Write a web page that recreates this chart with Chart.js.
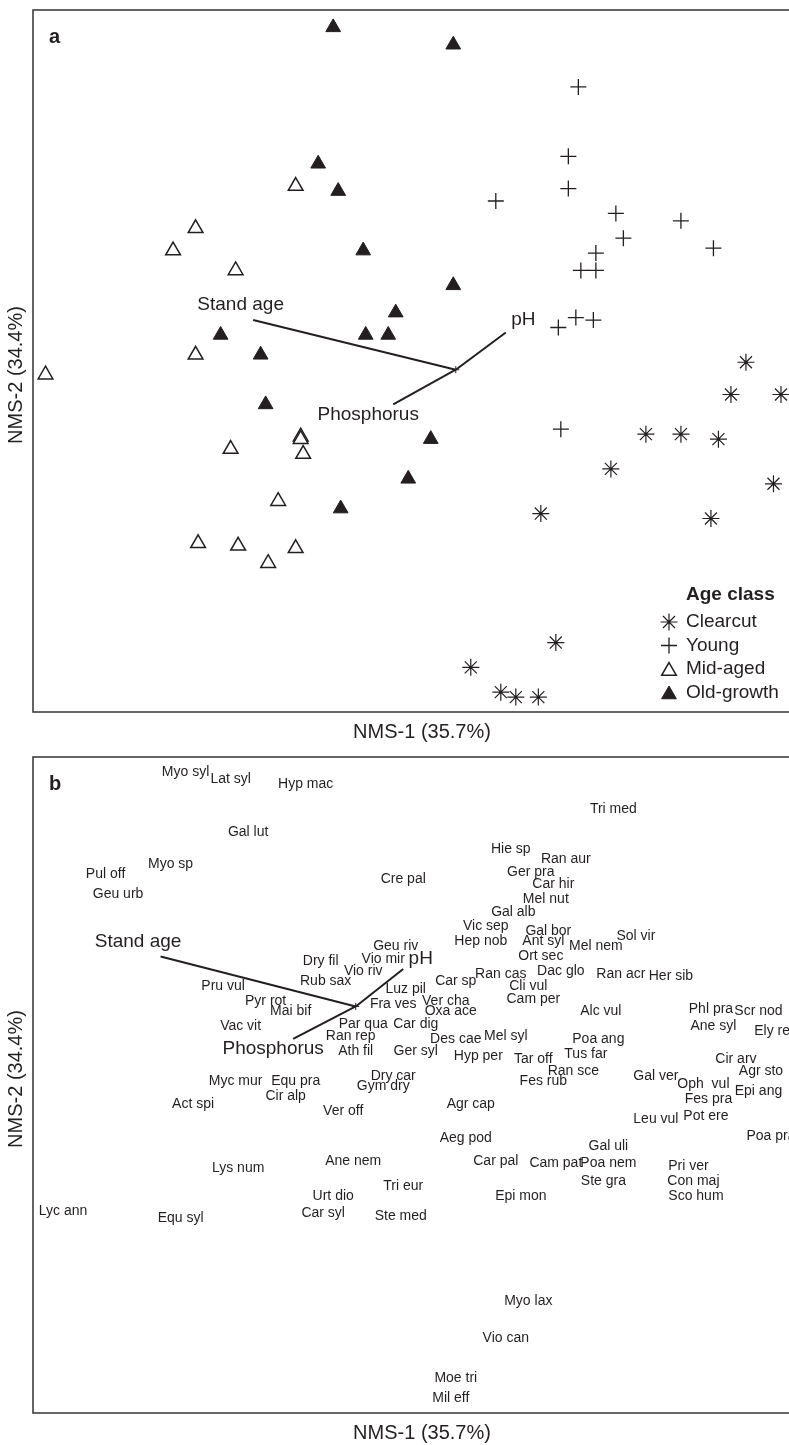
<!DOCTYPE html>
<html>
<head>
<meta charset="utf-8">
<script src="https://cdn.jsdelivr.net/npm/chart.js@4/dist/chart.umd.min.js"></script>
<style>
html,body{margin:0;padding:0;background:#fff;overflow:hidden;width:789px;height:1445px}
canvas{display:block}
</style>
</head>
<body>
<canvas id="chartA" width="830" height="745"></canvas>
<canvas id="chartB" width="830" height="700"></canvas>
<script>

/* ===== DATA ===== */

const axisTitleX = "NMS-1 (35.7%)"
const axisTitleY = "NMS-2 (34.4%)"

const ageClasses = ["Clearcut","Young","Mid-aged","Old-growth"]

const clearcutX = [1.16,1.10,1.30,0.76,0.90,1.05,0.62,1.27,0.34,1.02,0.40,0.06,0.18,0.24,0.33]
const clearcutY = [0.03,-0.10,-0.10,-0.26,-0.26,-0.28,-0.40,-0.46,-0.58,-0.60,-1.10,-1.20,-1.30,-1.32,-1.32]

const youngX = [0.49,0.45,0.45,0.16,0.64,0.90,0.67,1.03,0.56,0.50,0.56,0.41,0.48,0.55,0.42]
const youngY = [1.14,0.86,0.73,0.68,0.63,0.60,0.53,0.49,0.47,0.40,0.40,0.17,0.21,0.20,-0.24]

const midAgedX = [-0.64,-1.04,-1.13,-0.88,-1.04,-1.64,-0.62,-0.62,-0.61,-0.90,-0.71,-1.03,-0.87,-0.64,-0.75]
const midAgedY = [0.74,0.57,0.48,0.40,0.06,-0.02,-0.27,-0.28,-0.34,-0.32,-0.53,-0.70,-0.71,-0.72,-0.78]

const oldGrowthX = [-0.49,-0.01,-0.55,-0.47,-0.37,-0.01,-0.24,-0.94,-0.36,-0.27,-0.78,-0.76,-0.10,-0.19,-0.46]
const oldGrowthY = [1.38,1.31,0.83,0.72,0.48,0.34,0.23,0.14,0.14,0.14,0.06,-0.14,-0.28,-0.44,-0.56]

const vectorNames = ["Stand age","pH","Phosphorus"]

const vectorAX = [-0.81,0.20,-0.25]
const vectorAY = [0.20,0.15,-0.14]
const vectorALabelX = [-0.86,0.27,-0.35]
const vectorALabelY = [0.26,0.20,-0.18]

const vectorBX = [-0.78,0.19,-0.25]
const vectorBY = [0.20,0.15,-0.13]
const vectorBLabelX = [-0.87,0.26,-0.33]
const vectorBLabelY = [0.26,0.19,-0.17]

const speciesNames = [
"Myo syl","Lat syl","Hyp mac","Gal lut","Myo sp","Pul off","Geu urb","Cre pal","Tri med","Hie sp",
"Ran aur","Ger pra","Car hir","Mel nut","Gal alb","Vic sep","Gal bor","Sol vir","Hep nob","Ant syl",
"Mel nem","Geu riv","Ort sec","Vio mir","Dry fil","Vio riv","Ran cas","Dac glo","Ran acr","Her sib",
"Car sp","Rub sax","Pru vul","Cli vul","Luz pil","Pyr rot","Ver cha","Cam per","Fra ves","Mai bif",
"Oxa ace","Alc vul","Phl pra","Scr nod","Par qua","Car dig","Vac vit","Ane syl","Ely rep","Ran rep",
"Mel syl","Des cae","Poa ang","Ath fil","Ger syl","Tus far","Hyp per","Tar off","Cir arv","Ran sce",
"Agr sto","Dry car","Gal ver","Myc mur","Equ pra","Fes rub","Oph  vul","Gym dry","Epi ang","Cir alp",
"Fes pra","Act spi","Agr cap","Ver off","Pot ere","Leu vul","Aeg pod","Poa pra","Gal uli","Ane nem",
"Car pal","Cam pat","Poa nem","Pri ver","Lys num","Ste gra","Con maj","Tri eur","Urt dio","Epi mon",
"Sco hum","Lyc ann","Equ syl","Car syl","Ste med","Myo lax","Vio can","Moe tri","Mil eff"
]

const speciesX = [
-0.68,-0.50,-0.20,-0.43,-0.74,-1.00,-0.95,0.19,1.03,0.62,
0.84,0.70,0.79,0.76,0.63,0.52,0.77,1.12,0.50,0.75,
0.96,0.16,0.74,0.11,-0.14,0.03,0.58,0.82,1.06,1.26,
0.40,-0.12,-0.53,0.69,0.20,-0.36,0.36,0.71,0.15,-0.26,
0.38,0.98,1.42,1.61,0.03,0.24,-0.46,1.43,1.68,-0.02,
0.60,0.40,0.97,0.00,0.24,0.92,0.49,0.71,1.52,0.87,
1.62,0.15,1.20,-0.48,-0.24,0.75,1.39,0.11,1.61,-0.28,
1.41,-0.65,0.46,-0.05,1.40,1.20,0.44,1.66,1.01,-0.01,
0.56,0.80,1.01,1.33,-0.47,0.99,1.35,0.19,-0.09,0.66,
1.36,-1.17,-0.70,-0.13,0.18,0.69,0.60,0.40,0.38
]

const speciesY = [
0.94,0.91,0.89,0.70,0.57,0.53,0.45,0.51,0.79,0.63,
0.59,0.54,0.49,0.43,0.38,0.32,0.30,0.28,0.26,0.26,
0.24,0.24,0.20,0.19,0.18,0.14,0.13,0.14,0.13,0.12,
0.10,0.10,0.08,0.08,0.07,0.02,0.02,0.03,0.01,-0.02,
-0.02,-0.02,-0.01,-0.02,-0.07,-0.07,-0.08,-0.08,-0.10,-0.12,
-0.12,-0.13,-0.13,-0.18,-0.18,-0.19,-0.20,-0.21,-0.21,-0.26,
-0.26,-0.28,-0.28,-0.30,-0.30,-0.30,-0.31,-0.32,-0.34,-0.36,
-0.37,-0.39,-0.39,-0.42,-0.44,-0.45,-0.53,-0.52,-0.56,-0.62,
-0.62,-0.63,-0.63,-0.64,-0.65,-0.70,-0.70,-0.72,-0.76,-0.76,
-0.76,-0.82,-0.85,-0.83,-0.84,-1.18,-1.33,-1.49,-1.57
]

/* ===== STYLE ===== */

const INK = "#231f20"
const FONT = "'Liberation Sans', Arial, Helvetica, sans-serif"

const zip = (xs,ys)=>xs.map((x,i)=>({x:x,y:ys[i]}))

/* ===== PLUGIN: TEXT LABELS AT POINTS ===== */

const textLabelsPlugin = {

id:"textLabels",

afterDatasetsDraw(chart){

const ctx = chart.ctx

chart.data.datasets.forEach((ds,i)=>{

if(!ds.textLabels) return

const meta = chart.getDatasetMeta(i)

ctx.save()
ctx.font = ds.textFont
ctx.fillStyle = INK
ctx.textAlign = "center"
ctx.textBaseline = "middle"

meta.data.forEach((pt,j)=>{
ctx.fillText(ds.textLabels[j],pt.x,pt.y)
})

ctx.restore()

})

}

}

/* ===== PLUGIN: FRAME, PANEL LETTER, AXIS TITLES ===== */

const framePlugin = {

id:"frame",

afterDraw(chart,args,opts){

const {ctx, chartArea:{left,top,right,bottom}} = chart

ctx.save()

ctx.strokeStyle = "#3f3f3f"
ctx.lineWidth = 1.6
ctx.strokeRect(left,top,right-left,bottom-top)

ctx.fillStyle = INK
ctx.font = "bold 20px " + FONT
ctx.textAlign = "left"
ctx.textBaseline = "alphabetic"
ctx.fillText(opts.letter,left+16,top+33)

ctx.font = "20px " + FONT
ctx.textAlign = "center"
ctx.textBaseline = "middle"
ctx.fillText(axisTitleX,(left+right)/2,bottom+20)

ctx.translate(16,top+opts.yTitleOffset)
ctx.rotate(-Math.PI/2)
ctx.fillText(axisTitleY,0,0)

ctx.restore()

}

}

/* ===== PLUGIN: AGE CLASS LEGEND ===== */

const ageLegendPlugin = {

id:"ageLegend",

afterDraw(chart){

const {ctx, chartArea:{right,bottom}} = chart
const sx = right-142
const tx = right-125

ctx.save()

ctx.fillStyle = INK
ctx.textAlign = "left"
ctx.textBaseline = "middle"
ctx.font = "bold 19px " + FONT
ctx.fillText("Age class",tx,bottom-117)

ctx.font = "19px " + FONT

chart.data.datasets.slice(0,4).forEach((ds,i)=>{

const y = bottom-90+i*23.5
const dy = ds.pointStyle==="triangle" ? 2 : 0

ctx.lineWidth = ds.borderWidth
ctx.strokeStyle = ds.borderColor
ctx.fillStyle = ds.backgroundColor

if(Chart.helpers && Chart.helpers.drawPoint){
Chart.helpers.drawPoint(ctx,{pointStyle:ds.pointStyle,radius:ds.pointRadius,rotation:0,borderWidth:ds.borderWidth},sx,y+dy)
}

ctx.fillStyle = INK
ctx.fillText(ds.label,tx,y)

})

ctx.restore()

}

}

/* ===== SHARED PIECES ===== */

function vectorSets(vx,vy,lx,ly){

const sets = vx.map((x,i)=>({
data:[{x:0,y:0},{x:x,y:vy[i]}],
showLine:true,
pointRadius:0,
borderColor:INK,
borderWidth:2
}))

sets.push({
data:[{x:0,y:0}],
pointStyle:"cross",
pointRadius:3.5,
borderWidth:1,
borderColor:INK
})

sets.push({
data:zip(lx,ly),
pointRadius:0,
textLabels:vectorNames,
textFont:"19px " + FONT
})

return sets

}

function baseOptions(xr,yr,pad,letter,yTitleOffset){

return {

responsive:false,
animation:false,
events:[],

layout:{padding:pad},

plugins:{
legend:{display:false},
tooltip:{enabled:false},
frame:{letter:letter,yTitleOffset:yTitleOffset}
},

scales:{
x:{type:"linear",display:false,min:xr[0],max:xr[1]},
y:{type:"linear",display:false,min:yr[0],max:yr[1]}
}

}

}

/* ===== PANEL A ===== */

new Chart(document.getElementById("chartA"),{

type:"scatter",

data:{

datasets:[

{
label:ageClasses[0],
data:zip(clearcutX,clearcutY),
pointStyle:"star",
pointRadius:8.5,
borderWidth:1.2,
borderColor:INK,
backgroundColor:INK
},

{
label:ageClasses[1],
data:zip(youngX,youngY),
pointStyle:"cross",
pointRadius:8,
borderWidth:1.3,
borderColor:INK,
backgroundColor:INK
},

{
label:ageClasses[2],
data:zip(midAgedX,midAgedY),
pointStyle:"triangle",
pointRadius:8.5,
borderWidth:1.5,
borderColor:INK,
backgroundColor:"#ffffff"
},

{
label:ageClasses[3],
data:zip(oldGrowthX,oldGrowthY),
pointStyle:"triangle",
pointRadius:8.5,
borderWidth:1,
borderColor:INK,
backgroundColor:INK
},

...vectorSets(vectorAX,vectorAY,vectorALabelX,vectorALabelY)

]

},

options:baseOptions([-1.69,1.42],[-1.38,1.45],{left:33,top:5,right:19,bottom:33},"a",365),

plugins:[textLabelsPlugin,framePlugin,ageLegendPlugin]

})

/* ===== PANEL B ===== */

new Chart(document.getElementById("chartB"),{

type:"scatter",

data:{

datasets:[

{
data:zip(speciesX,speciesY),
pointRadius:0,
textLabels:speciesNames,
textFont:"14px " + FONT
},

...vectorSets(vectorBX,vectorBY,vectorBLabelX,vectorBLabelY)

]

},

options:baseOptions([-1.29,1.82],[-1.63,1.00],{left:33,top:12,right:19,bottom:32},"b",322),

plugins:[textLabelsPlugin,framePlugin]

})

</script>
</body>
</html>
